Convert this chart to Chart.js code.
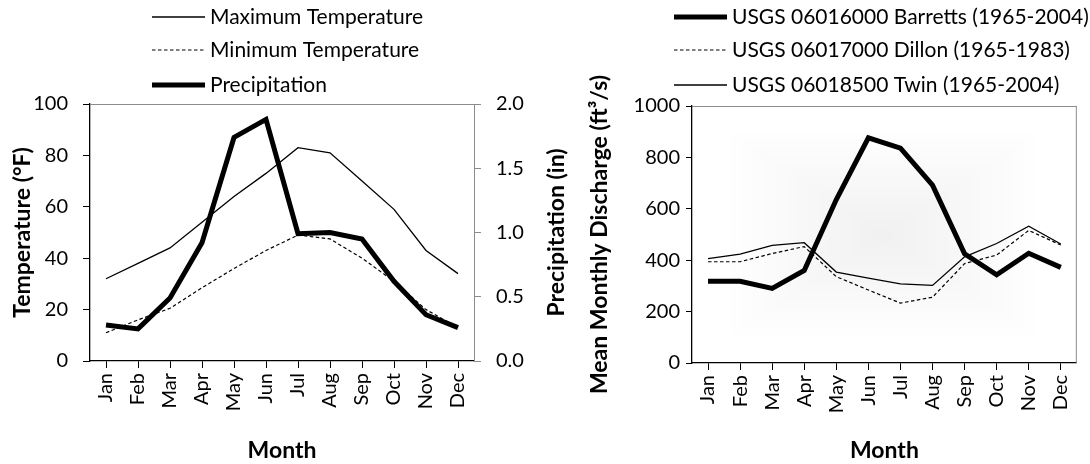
<!DOCTYPE html>
<html>
<head>
<meta charset="utf-8">
<script src="https://cdn.jsdelivr.net/npm/chart.js@4.4.1/dist/chart.umd.min.js"></script>
<style>
  html, body { margin: 0; padding: 0; background: #fff; }
  body { width: 1090px; height: 464px; position: relative; overflow: hidden; }
  #climate { position: absolute; left: 0; top: 0; }
  #flow { position: absolute; left: 575px; top: 0; }
</style>
</head>
<body>
<canvas id="climate" width="580" height="464"></canvas>
<canvas id="flow" width="515" height="464"></canvas>
<script>
// Monthly climate normals and mean monthly discharge
const months = ['Jan', 'Feb', 'Mar', 'Apr', 'May', 'Jun', 'Jul', 'Aug', 'Sep', 'Oct', 'Nov', 'Dec'];

const maxTemp = [32, 38, 44, 54, 64, 73, 83, 81, 70, 59, 43, 34];        // °F
const minTemp = [11, 16, 20.5, 28.5, 36, 43, 49, 47.5, 40, 31, 20, 13];  // °F
const precip  = [0.28, 0.25, 0.49, 0.92, 1.74, 1.88, 0.99, 1.0, 0.95, 0.62, 0.36, 0.26]; // in

const barretts = [318, 318, 290, 360, 636, 876, 836, 692, 425, 343, 427, 372]; // ft³/s
const dillon   = [394, 394, 426, 453, 336, 284, 233, 256, 387, 420, 516, 459];
const twin     = [406, 424, 458, 468, 354, 330, 308, 302, 413, 465, 532, 463];

const tempTicks = [0, 20, 40, 60, 80, 100];
const precipTicks = [0, 0.5, 1.0, 1.5, 2.0];
const dischargeTicks = [0, 200, 400, 600, 800, 1000];

const FAMILY = 'Lato, "Open Sans", "DejaVu Sans", sans-serif';
Chart.defaults.font.family = FAMILY;
Chart.defaults.color = '#000';

const tickFont = { family: FAMILY, size: 20 };
const titleFont = { family: FAMILY, size: 23, weight: 'bold' };
const AXIS_GREY = '#8c8c8c';

const useTicks = values => scale => { scale.ticks = values.map(v => ({ value: v })); };
const fixWidth = w => scale => { scale.width = w; };
const fixHeight = h => scale => { scale.height = h; };

// Line legend stacked in rows above the plot
const rowLegend = {
  id: 'rowLegend',
  afterDraw(chart, args, opts) {
    const ctx = chart.ctx;
    ctx.save();
    ctx.font = `${opts.fontSize}px ${FAMILY}`;
    ctx.textBaseline = 'middle';
    ctx.fillStyle = '#000';
    chart.data.datasets.forEach((ds, i) => {
      const y = opts.rows[i];
      ctx.beginPath();
      ctx.lineWidth = ds.borderWidth;
      ctx.strokeStyle = ds.borderColor;
      ctx.setLineDash(ds.borderDash || []);
      ctx.lineCap = 'butt';
      ctx.moveTo(opts.x0, y);
      ctx.lineTo(opts.x1, y);
      ctx.stroke();
      ctx.setLineDash([]);
      ctx.fillText(ds.label, opts.x1 + opts.gap, y);
    });
    ctx.restore();
  }
};

// Plot-area outline on top (and optionally right) edge
const frame = {
  id: 'frame',
  beforeDatasetsDraw(chart, args, opts) {
    const { ctx, chartArea: { left, right, top, bottom } } = chart;
    ctx.save();
    ctx.strokeStyle = opts.color;
    ctx.lineWidth = 1;
    ctx.beginPath();
    ctx.moveTo(left, top + 0.5);
    ctx.lineTo(right, top + 0.5);
    if (opts.right) {
      ctx.moveTo(right - 0.5, top);
      ctx.lineTo(right - 0.5, bottom);
    }
    ctx.stroke();
    ctx.restore();
  }
};

// Soft rectangular shading in the middle of the plot area
const centreShade = {
  id: 'centreShade',
  beforeDatasetsDraw(chart, args, opts) {
    if (!opts.enabled) return;
    const { ctx, chartArea: { left, right, top, bottom } } = chart;
    const w = right - left, h = bottom - top;
    const x0 = left + w * 0.102, x1 = left + w * 0.893;
    const y0 = top + h * 0.105, y1 = top + h * 0.891;
    const cx = (x0 + x1) / 2, cy = (y0 + y1) / 2;
    const steps = 14;
    ctx.save();
    for (let i = 0; i < steps; i++) {
      const t = i / steps;
      const g = Math.round(254 - (254 - 241) * (i / (steps - 1)));
      ctx.fillStyle = `rgb(${g},${g},${g})`;
      const ax = x0 + (cx - x0) * t, bx = x1 - (x1 - cx) * t;
      const ay = y0 + (cy - y0) * t, by = y1 - (y1 - cy) * t;
      ctx.fillRect(ax, ay, bx - ax, by - ay);
    }
    ctx.restore();
  }
};

// Secondary-axis title reading bottom to top
const sideTitle = {
  id: 'sideTitle',
  afterDraw(chart, args, opts) {
    if (!opts.text) return;
    const { ctx, chartArea: { top, bottom } } = chart;
    ctx.save();
    ctx.translate(opts.x, (top + bottom) / 2);
    ctx.rotate(-Math.PI / 2);
    ctx.font = `bold ${titleFont.size}px ${FAMILY}`;
    ctx.textAlign = 'center';
    ctx.textBaseline = 'middle';
    ctx.fillStyle = '#000';
    ctx.fillText(opts.text, 0, 0);
    ctx.restore();
  }
};

const monthAxis = (height) => ({
  type: 'category',
  offset: true,
  afterFit: fixHeight(height),
  grid: { display: true, drawOnChartArea: false, drawTicks: true, tickLength: 7, color: '#000', lineWidth: 1 },
  border: { display: true, color: '#000', width: 1.3 },
  ticks: { font: tickFont, color: '#000', minRotation: 90, maxRotation: 90, autoSkip: false, padding: 5 },
  title: { display: true, text: 'Month', font: titleFont, color: '#000', padding: { top: 0, bottom: 0 } }
});

const lineBase = { fill: false, tension: 0, pointRadius: 0, pointHoverRadius: 0, borderCapStyle: 'butt', borderJoinStyle: 'miter' };

new Chart(document.getElementById('climate'), {
  type: 'line',
  data: {
    labels: months,
    datasets: [
      { ...lineBase, label: 'Maximum Temperature', data: maxTemp, yAxisID: 'y', borderColor: '#000', borderWidth: 1.3, order: 2 },
      { ...lineBase, label: 'Minimum Temperature', data: minTemp, yAxisID: 'y', borderColor: '#000', borderWidth: 1.2, borderDash: [3.5, 2.5], order: 1 },
      { ...lineBase, label: 'Precipitation', data: precip, yAxisID: 'y1', borderColor: '#000', borderWidth: 5, order: 0 }
    ]
  },
  options: {
    responsive: false,
    animation: false,
    events: [],
    layout: { padding: { top: 104, left: 0, right: 0, bottom: 0 } },
    plugins: {
      legend: { display: false },
      tooltip: { enabled: false },
      rowLegend: { x0: 152, x1: 205, gap: 5, rows: [17, 50, 85], fontSize: 21 },
      frame: { color: AXIS_GREY, right: false },
      centreShade: { enabled: false },
      sideTitle: { text: 'Precipitation (in)', x: 557 }
    },
    scales: {
      x: monthAxis(103),
      y: {
        position: 'left',
        min: 0, max: 100,
        afterBuildTicks: useTicks(tempTicks),
        afterFit: fixWidth(90),
        grid: { drawOnChartArea: false, drawTicks: true, tickLength: 7, color: '#000' },
        border: { display: true, color: '#000', width: 1.3 },
        ticks: { font: tickFont, color: '#000', padding: 15, callback: v => String(v) },
        title: { display: true, text: 'Temperature (°F)', font: titleFont, color: '#000', padding: { top: 9, bottom: 0 } }
      },
      y1: {
        position: 'right',
        min: 0, max: 2,
        afterBuildTicks: useTicks(precipTicks),
        afterFit: fixWidth(106),
        grid: { drawOnChartArea: false, drawTicks: true, tickLength: 7, color: AXIS_GREY },
        border: { display: true, color: AXIS_GREY, width: 1 },
        ticks: { font: tickFont, color: '#000', padding: 15, callback: v => Number(v).toFixed(1) }
      }
    }
  },
  plugins: [centreShade, frame, rowLegend, sideTitle]
});

new Chart(document.getElementById('flow'), {
  type: 'line',
  data: {
    labels: months,
    datasets: [
      { ...lineBase, label: 'USGS 06016000 Barretts (1965-2004)', data: barretts, borderColor: '#000', borderWidth: 5 },
      { ...lineBase, label: 'USGS 06017000 Dillon (1965-1983)', data: dillon, borderColor: '#000', borderWidth: 1.2, borderDash: [3.5, 2.5] },
      { ...lineBase, label: 'USGS 06018500 Twin (1965-2004)', data: twin, borderColor: '#000', borderWidth: 1.3 }
    ]
  },
  options: {
    responsive: false,
    animation: false,
    events: [],
    layout: { padding: { top: 106, left: 0, right: 5, bottom: 0 } },
    plugins: {
      legend: { display: false },
      tooltip: { enabled: false },
      rowLegend: { x0: 99, x1: 152, gap: 5, rows: [17, 50, 85], fontSize: 21 },
      frame: { color: AXIS_GREY, right: true },
      centreShade: { enabled: true },
      sideTitle: { text: '' }
    },
    scales: {
      x: monthAxis(101),
      y: {
        position: 'left',
        min: 0, max: 1000,
        afterBuildTicks: useTicks(dischargeTicks),
        afterFit: fixWidth(117),
        grid: { drawOnChartArea: false, drawTicks: true, tickLength: 6, color: '#000' },
        border: { display: true, color: '#000', width: 1.3 },
        ticks: { font: tickFont, color: '#000', padding: 6, callback: v => String(v) },
        title: { display: true, text: 'Mean Monthly Discharge (ft³/s)', font: titleFont, color: '#000', padding: { top: 11, bottom: 0 } }
      }
    }
  },
  plugins: [centreShade, frame, rowLegend, sideTitle]
});
</script>
</body>
</html>
